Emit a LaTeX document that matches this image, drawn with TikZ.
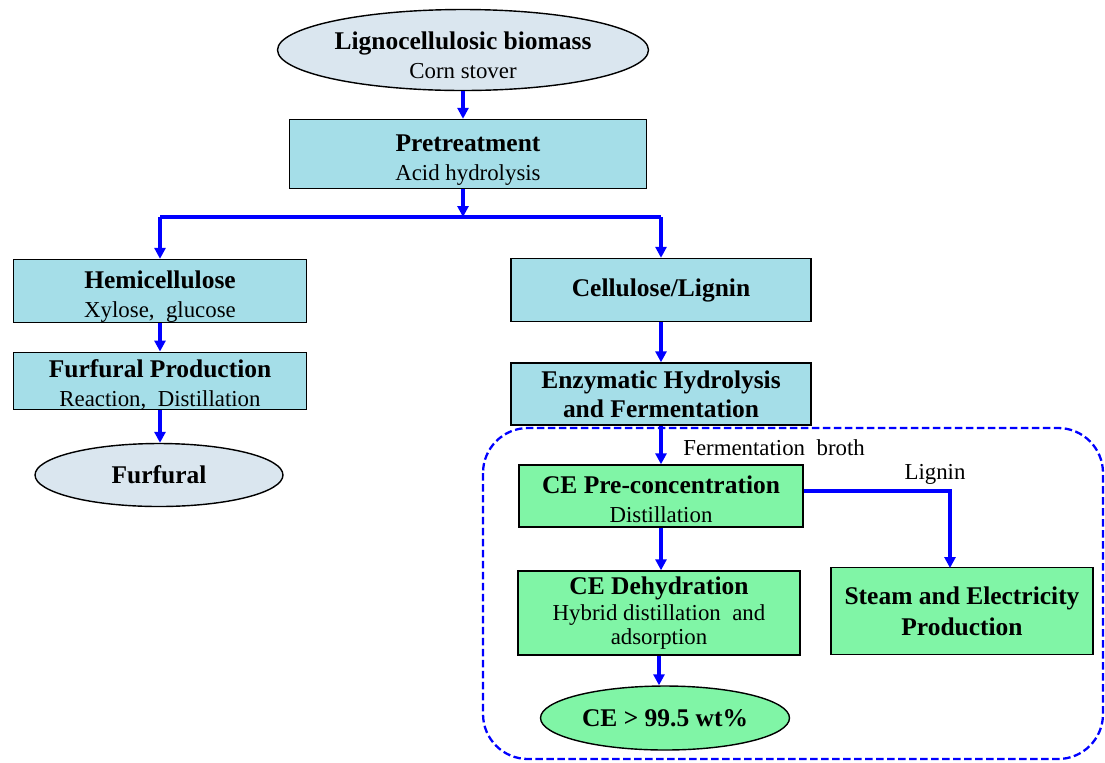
\documentclass[tikz,border=0pt]{standalone}
\usepackage{fontspec}
\setmainfont{Liberation Serif}
\usetikzlibrary{shapes.geometric,arrows.meta}

\definecolor{boxblue}{HTML}{A5DEE8}
\definecolor{ovalgrey}{HTML}{DAE6EF}
\definecolor{boxgreen}{HTML}{80F5A6}
\definecolor{flowblue}{HTML}{0000FF}

\newcommand{\hd}[1]{{\fontsize{14.5}{16.5}\selectfont\bfseries #1}}
\newcommand{\subtxt}[1]{{\fontsize{13}{16.5}\selectfont #1}}
\newcommand{\lift}[1]{\rule{0pt}{#1}}

\begin{document}
\begin{tikzpicture}[x=0.02cm,y=-0.02cm,
    blk/.style={draw=black, line width=0.8pt, fill=boxblue, inner sep=0pt, align=center,
        font=\fontsize{13}{16.5}\selectfont},
    oval/.style={ellipse, draw=black, line width=0.8pt, fill=ovalgrey, inner sep=0pt, align=center,
        font=\fontsize{13}{16.5}\selectfont},
    arr/.style={draw=flowblue, line width=1.8pt, -{Triangle[length=0.22cm,width=0.22cm]}},
    lnk/.style={draw=flowblue, line width=1.8pt}]
            \useasboundingbox (0,0) rectangle (1105,762);

            % recovery section
            \draw[flowblue, line width=1.3pt, dash pattern=on 0.15cm off 0.07cm, rounded corners=0.9cm]
                (483,428) rectangle (1103,759);

            \node[oval, minimum width=7.42cm, minimum height=1.62cm] (bio) at (463,50)
                {\lift{0.56cm}\hd{Lignocellulosic biomass}\\\subtxt{Corn stover}};
            \node[blk, minimum width=7.14cm, minimum height=1.38cm] (pre) at (468,154)
                {\lift{0.56cm}\hd{Pretreatment}\\\subtxt{Acid hydrolysis}};

            % left branch
            \node[blk, minimum width=5.86cm, minimum height=1.22cm] (hemi) at (160,291)
                {\lift{0.58cm}\hd{Hemicellulose}\\\subtxt{Xylose,~ glucose}};
            \node[blk, minimum width=5.86cm, minimum height=1.14cm] (furprod) at (160,381)
                {\lift{0.5cm}\hd{Furfural Production}\\\subtxt{Reaction,~ Distillation}};
            \node[oval, minimum width=4.96cm, minimum height=1.26cm] (fur) at (159,475)
                {\hd{Furfural}};

            % right branch
            \node[blk, minimum width=6cm, minimum height=1.26cm] (cell) at (661,290)
                {\hd{Cellulose/Lignin}};
            \node[blk, minimum width=6cm, minimum height=1.24cm] (enz) at (661,394)
                {\hd{Enzymatic Hydrolysis}\\\hd{and Fermentation}};
            \node[blk, fill=boxgreen, minimum width=5.68cm, minimum height=1.24cm] (conc) at (661,496)
                {\lift{0.48cm}\hd{CE Pre-concentration}\\\subtxt{Distillation}};
            \node[blk, fill=boxgreen, minimum width=5.64cm, minimum height=1.68cm] (dehyd) at (659,613)
                {\hd{CE Dehydration}\\[-2pt]\subtxt{Hybrid distillation~ and}\\[-3pt]\subtxt{adsorption}};
            \node[oval, fill=boxgreen, minimum width=4.98cm, minimum height=1.28cm] (ce) at (665,718)
                {\hd{CE > 99.5 wt\%}};
            \node[blk, fill=boxgreen, minimum width=5.24cm, minimum height=1.74cm] (steam) at (962,611)
                {\hd{Steam and Electricity}\\[1pt]\hd{Production}};

            \coordinate (split) at (463,217);
            \coordinate (ligtop) at (950,568);

            % arrows
            \draw[arr] (bio.south) -- (bio.south |- pre.north);
            \draw[arr] (bio |- pre.south) -- (split);
            \draw[lnk] (split) -- (hemi.north |- split);
            \draw[lnk] (split) -- (cell.north |- split);
            \draw[arr] (hemi.north |- split) -- (hemi.north);
            \draw[arr] (cell.north |- split) -- (cell.north);
            \draw[arr] (hemi.south) -- (furprod.north);
            \draw[arr] (furprod.south) -- (furprod.south |- fur.north);
            \draw[arr] (cell.south) -- (enz.north);
            \draw[arr] (enz.south) -- (conc.north);
            \draw[arr] (conc.south) -- (conc.south |- dehyd.north);
            \draw[arr] (dehyd.south) -- (dehyd.south |- ce.north);
            \draw[arr] ([yshift=0.1cm]conc.east) -| (ligtop);

            % labels
            \node[anchor=west, inner sep=0pt] (broth) at (683,448) {\subtxt{Fermentation~ broth}};
            \node[inner sep=0pt] (lig) at (935,474) {\subtxt{Lignin}};
\end{tikzpicture}
\end{document}
